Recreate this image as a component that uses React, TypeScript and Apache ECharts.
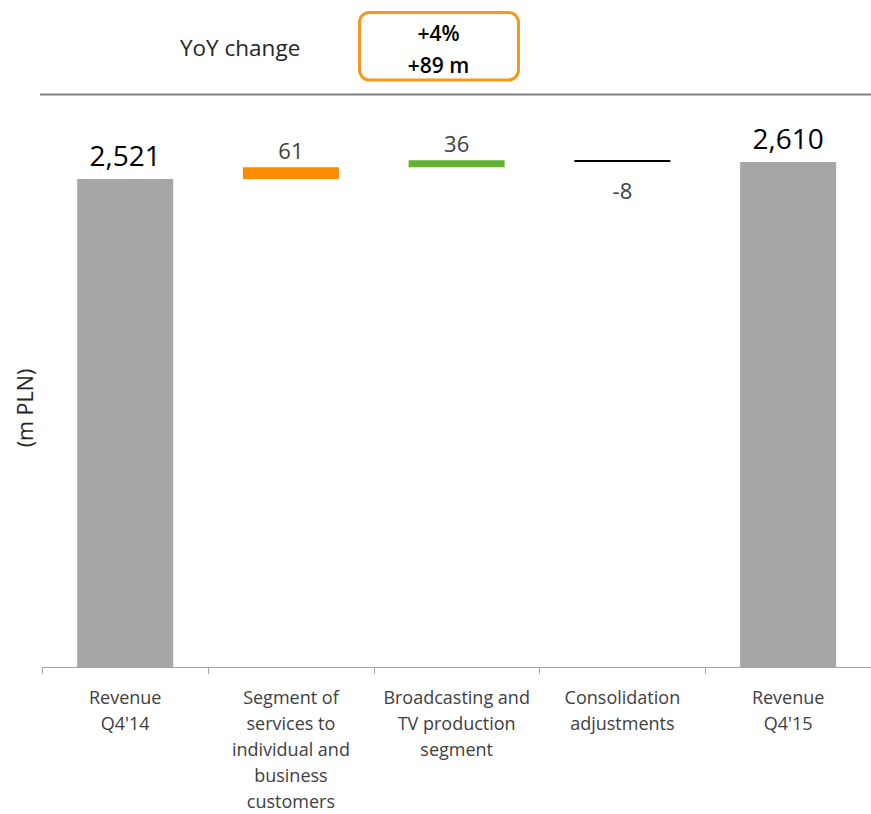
import React, { useEffect, useRef } from "react";
import * as echarts from "echarts";

const categories = [
  "Revenue\nQ4'14",
  "Segment of\nservices to\nindividual and\nbusiness\ncustomers",
  "Broadcasting and\nTV production\nsegment",
  "Consolidation\nadjustments",
  "Revenue\nQ4'15",
];
const startValue = 2521;
const changes = [61, 36, -8];
const endValue = 2610;
const changeColors = ["#FF8C00", "#62B22F", "#000000"];
const totalColor = "#A6A6A6";
const yoyPercent = "+4%";
const yoyAbs = "+89 m";

export default function App() {
  const ref = useRef<HTMLDivElement>(null);
  useEffect(() => {
    if (!ref.current) return;
    const chart = echarts.init(ref.current, null, { renderer: "svg" });
    const fmt = (v: number) => v.toLocaleString("en-US");

    const base: number[] = [0];
    const heights: number[] = [startValue];
    let running = startValue;
    changes.forEach((c) => {
      if (c >= 0) {
        base.push(running);
        heights.push(c);
      } else {
        base.push(running + c);
        heights.push(-c);
      }
      running += c;
    });
    base.push(0);
    heights.push(endValue);

    const totalLabel = {
      show: true,
      position: "top",
      distance: 10,
      fontFamily: "Open Sans",
      fontSize: 28,
      color: "#000",
    };
    const valueData = heights.map((h, i) => {
      if (i === 0 || i === heights.length - 1) {
        return {
          value: h,
          itemStyle: { color: totalColor },
          label: { ...totalLabel, formatter: fmt(i === 0 ? startValue : endValue) },
        };
      }
      const c = changes[i - 1];
      return {
        value: h,
        itemStyle: { color: changeColors[i - 1] },
        label: {
          show: true,
          position: c >= 0 ? "top" : "bottom",
          distance: c >= 0 ? 6 : 17,
          fontFamily: "Open Sans",
          fontSize: 22,
          color: "#404040",
          formatter: fmt(c),
        },
      };
    });

    chart.setOption({
      animation: false,
      grid: { left: 42.3, width: 831, top: 86.4, bottom: 141.3 },
      xAxis: {
        type: "category",
        data: categories,
        axisLine: { lineStyle: { color: "#A6A6A6", width: 1 } },
        axisTick: { show: true, length: 7, lineStyle: { color: "#A6A6A6" } },
        axisLabel: {
          interval: 0,
          fontFamily: "Open Sans",
          fontSize: 18,
          lineHeight: 26,
          color: "#404040",
          margin: 17,
        },
      },
      yAxis: { type: "value", show: false, min: 0, max: 3000, splitLine: { show: false } },
      series: [
        {
          type: "bar",
          stack: "w",
          data: base,
          barWidth: 96,
          itemStyle: { color: "transparent" },
          silent: true,
        },
        {
          type: "bar",
          stack: "w",
          data: valueData,
          barWidth: 96,
          barMinHeight: 2,
        },
      ],
      graphic: [
        {
          type: "text",
          left: 180,
          top: 36,
          style: { text: "YoY change", fontFamily: "Open Sans", fontSize: 22.5, fill: "#262626" },
        },
        {
          type: "rect",
          shape: { x: 359.5, y: 12.5, width: 159, height: 67.5, r: 10 },
          style: { fill: "#fff", stroke: "#F39A1E", lineWidth: 3 },
        },
        {
          type: "text",
          x: 438.5,
          y: 33,
          style: {
            text: yoyPercent,
            fontFamily: "Open Sans",
            fontWeight: 600,
            fontSize: 21,
            fill: "#000",
            align: "center",
            verticalAlign: "middle",
          },
        },
        {
          type: "text",
          x: 438.5,
          y: 64.5,
          style: {
            text: yoyAbs,
            fontFamily: "Open Sans",
            fontWeight: 600,
            fontSize: 21,
            fill: "#000",
            align: "center",
            verticalAlign: "middle",
          },
        },
        {
          type: "line",
          shape: { x1: 40, y1: 94.5, x2: 871, y2: 94.5 },
          style: { stroke: "#808080", lineWidth: 2 },
        },
        {
          type: "text",
          x: 24,
          y: 408,
          rotation: Math.PI / 2,
          style: {
            text: "(m PLN)",
            fontFamily: "Open Sans",
            fontSize: 21.5,
            fill: "#262626",
            align: "center",
            verticalAlign: "middle",
          },
        },
      ],
    });
    return () => chart.dispose();
  }, []);
  return (
    <div
      ref={ref}
      style={{ position: "absolute", left: 0, top: 0, width: 871, height: 814, background: "#fff" }}
    />
  );
}
